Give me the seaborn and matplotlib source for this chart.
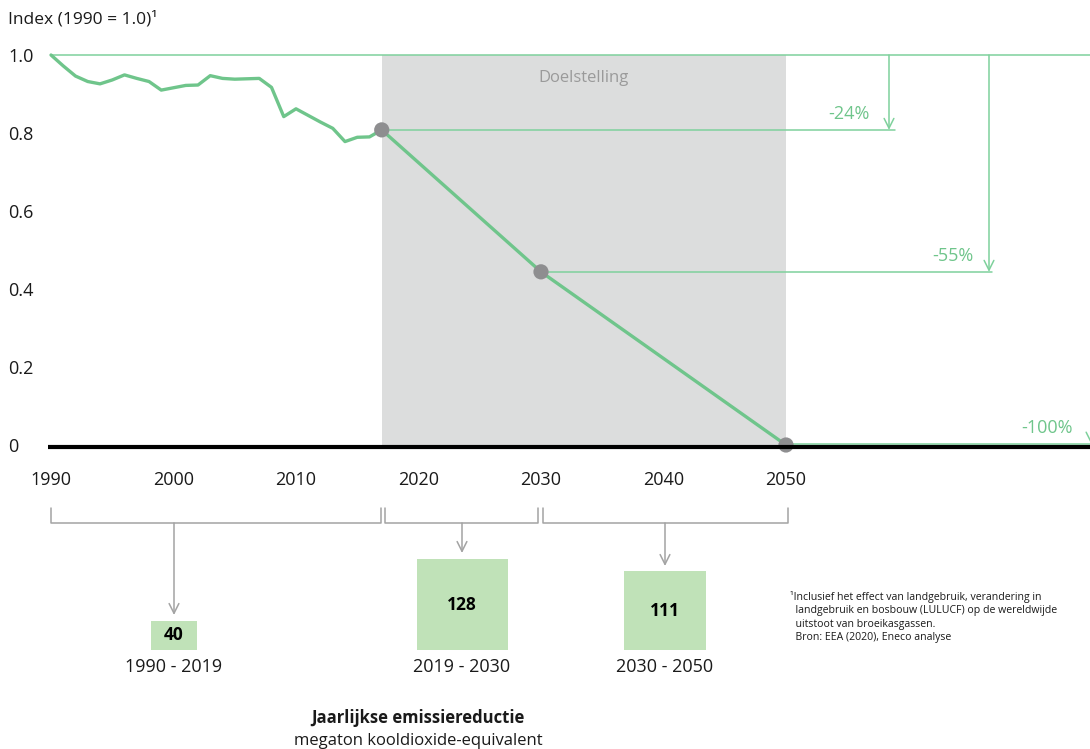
import matplotlib
matplotlib.use("Agg")
import matplotlib.pyplot as plt
from matplotlib import font_manager as fm
import seaborn as sns
import pandas as pd

# ---------------- data ----------------
hist_years = list(range(1990, 2018))
hist_index = [1.000, 0.972, 0.946, 0.932, 0.926, 0.936, 0.949, 0.940, 0.932, 0.910,
              0.916, 0.922, 0.923, 0.947, 0.940, 0.938, 0.939, 0.940, 0.917, 0.842,
              0.862, 0.845, 0.828, 0.812, 0.778, 0.789, 0.790, 0.808]
target_years = [2017, 2030, 2050]
target_index = [0.808, 0.444, 0.0]
target_labels = ["-24%", "-55%", "-100%"]
x_ticks = [1990, 2000, 2010, 2020, 2030, 2040, 2050]
y_ticks = [0, 0.2, 0.4, 0.6, 0.8, 1.0]
y_tick_labels = ["0", "0.2", "0.4", "0.6", "0.8", "1.0"]
period_labels = ["1990 - 2019", "2019 - 2030", "2030 - 2050"]
reduction_values = [40, 128, 111]

# ---------------- style ----------------
sns.set_style("white")


def has_bold(fam):
    for f in fm.fontManager.ttflist:
        if f.name == fam:
            w = f.weight
            if isinstance(w, str):
                if w in ("bold", "semibold", "demibold", "heavy", "black", "extra bold"):
                    return True
            elif w >= 600:
                return True
    return False


FAM = "Noto Sans"
for cand in ["Noto Sans", "Open Sans", "Lato", "Roboto", "Inter", "DejaVu Sans"]:
    if has_bold(cand):
        FAM = cand
        break
plt.rcParams["font.family"] = [FAM, "DejaVu Sans"]

GREEN = "#6fc58b"
GREEN_THIN = "#7fd19c"
SHADE = "#dcdddd"
DOT = "#8e8e90"
GREY = "#a3a3a3"
BOX = "#c0e2b8"
TXT = "#1a1a1a"

W, H = 1090, 749
fig = plt.figure(figsize=(W / 100, H / 100), dpi=100)

# pixel mapping: 1990 -> 51px, 2050 -> 786px ; y 1.0 -> 55px, 0 -> 445px
pxy = 735 / 60.0
ax_left_px, ax_right_px = 48, 1090
ax_top_px, ax_bot_px = 40, 460
ax = fig.add_axes([ax_left_px / W, 1 - ax_bot_px / H,
                   (ax_right_px - ax_left_px) / W, (ax_bot_px - ax_top_px) / H])
ax.set_facecolor("none")
x0 = 1990 - (51 - ax_left_px) / pxy
x1 = 1990 + (ax_right_px - 51) / pxy
ax.set_xlim(x0, x1)
ax.set_ylim(-(ax_bot_px - 445) / 390, 1 + (55 - ax_top_px) / 390)
for s in ax.spines.values():
    s.set_visible(False)


def yr(px):
    return 1990 + (px - 51) / pxy


# shaded target zone
ax.fill_between([target_years[0], target_years[-1]], 0, 1, color=SHADE, lw=0, zorder=0)
ax.text((target_years[0] + target_years[-1]) / 2, 0.942, "Doelstelling",
        ha="center", va="center", fontsize=12, color="#9a9a9a")

# reference line at 1.0
ax.plot([1990, x1 + 1], [1, 1], color=GREEN_THIN, lw=1.1, zorder=2, clip_on=False)

# historical and target lines
hist_df = pd.DataFrame({"year": hist_years, "index": hist_index})
tgt_df = pd.DataFrame({"year": target_years, "index": target_index})
sns.lineplot(data=hist_df, x="year", y="index", ax=ax, color=GREEN, lw=2.4, zorder=3)
sns.lineplot(data=tgt_df, x="year", y="index", ax=ax, color=GREEN, lw=2.4, zorder=3)
sns.scatterplot(data=tgt_df, x="year", y="index", ax=ax, color=DOT, s=120,
                edgecolor="none", zorder=4, clip_on=False)

# reduction arrows
arrow_x = [yr(889), yr(989), yr(1091)]
hline_end = [yr(895), yr(992), x1 + 1]
label_x = [yr(870), yr(973), yr(1073)]
for i in range(3):
    yv = target_index[i] + (0.0035 if target_index[i] == 0 else 0)
    ax.plot([target_years[i], hline_end[i]], [yv, yv], color=GREEN_THIN, lw=1.1,
            zorder=2, clip_on=False)
    ax.annotate("", xy=(arrow_x[i], yv), xytext=(arrow_x[i], 1.0),
                arrowprops=dict(arrowstyle="->,head_length=0.7,head_width=0.35",
                                color=GREEN_THIN, lw=1.1, shrinkA=0, shrinkB=0),
                annotation_clip=False, zorder=2)
    ax.text(label_x[i], yv + 0.018, target_labels[i], ha="right", va="bottom",
            fontsize=13, color=GREEN)

# black base line
ax.plot([x0, x1 + 1], [-0.0045, -0.0045], color="black", lw=3, zorder=6,
        clip_on=False, solid_capstyle="butt")

# ticks
ax.set_xticks(x_ticks)
ax.set_xticklabels([str(t) for t in x_ticks])
ax.set_yticks(y_ticks)
ax.set_yticklabels(y_tick_labels)
ax.tick_params(axis="both", length=0, labelsize=13, colors=TXT)
ax.tick_params(axis="x", pad=8)
ax.tick_params(axis="y", pad=(ax_left_px - 8) * 0.72)
for lab in ax.get_yticklabels():
    lab.set_horizontalalignment("left")
ax.set_xlabel("")
ax.set_ylabel("")
ax.grid(False)

# ---------------- overlay (pixel coordinates) ----------------
ov = fig.add_axes([0, 0, 1, 1])
ov.set_xlim(0, W)
ov.set_ylim(H, 0)
ov.axis("off")
ov.set_facecolor("none")

ov.text(8, 19, "Index (1990 = 1.0)\u00b9", ha="left", va="center", fontsize=12.5, color=TXT)

# brackets
brackets = [(51, 381), (385, 538), (543, 788)]
stems_x = [174, 462, 665]
stem_end = [615, 553, 566]
box_w = [46, 91, 82]
box_h = [29, 91, 79]
box_bottom = 650
for (a, b), sx, se in zip(brackets, stems_x, stem_end):
    ov.plot([a, a, b, b], [508, 523, 523, 508], color=GREY, lw=1.1)
    ov.annotate("", xy=(sx, se), xytext=(sx, 523),
                arrowprops=dict(arrowstyle="->,head_length=0.7,head_width=0.35",
                                color=GREY, lw=1.1, shrinkA=0, shrinkB=0))

ov.bar(stems_x, box_h, width=box_w, bottom=[box_bottom - h for h in box_h],
       color=BOX, edgecolor="none", zorder=1)
for sx, h, v, lab in zip(stems_x, box_h, reduction_values, period_labels):
    ov.text(sx, box_bottom - h / 2, str(v), ha="center", va="center",
            fontsize=12.5, fontweight="bold", color="black", zorder=3)
    ov.text(sx, 667, lab, ha="center", va="center", fontsize=13, color=TXT)

ov.text(418, 718, "Jaarlijkse emissiereductie", ha="center", va="center",
        fontsize=12, fontweight="bold", color=TXT)
ov.text(418, 741, "megaton kooldioxide-equivalent", ha="center", va="center",
        fontsize=12, color=TXT)

foot = ("\u00b9Inclusief het effect van landgebruik, verandering in\n"
        "  landgebruik en bosbouw (LULUCF) op de wereldwijde\n"
        "  uitstoot van broeikasgassen.\n"
        "  Bron: EEA (2020), Eneco analyse")
ov.text(790, 591, foot, ha="left", va="top", fontsize=7.6, color=TXT, linespacing=1.3)

fig.savefig("out.png", dpi=100)
